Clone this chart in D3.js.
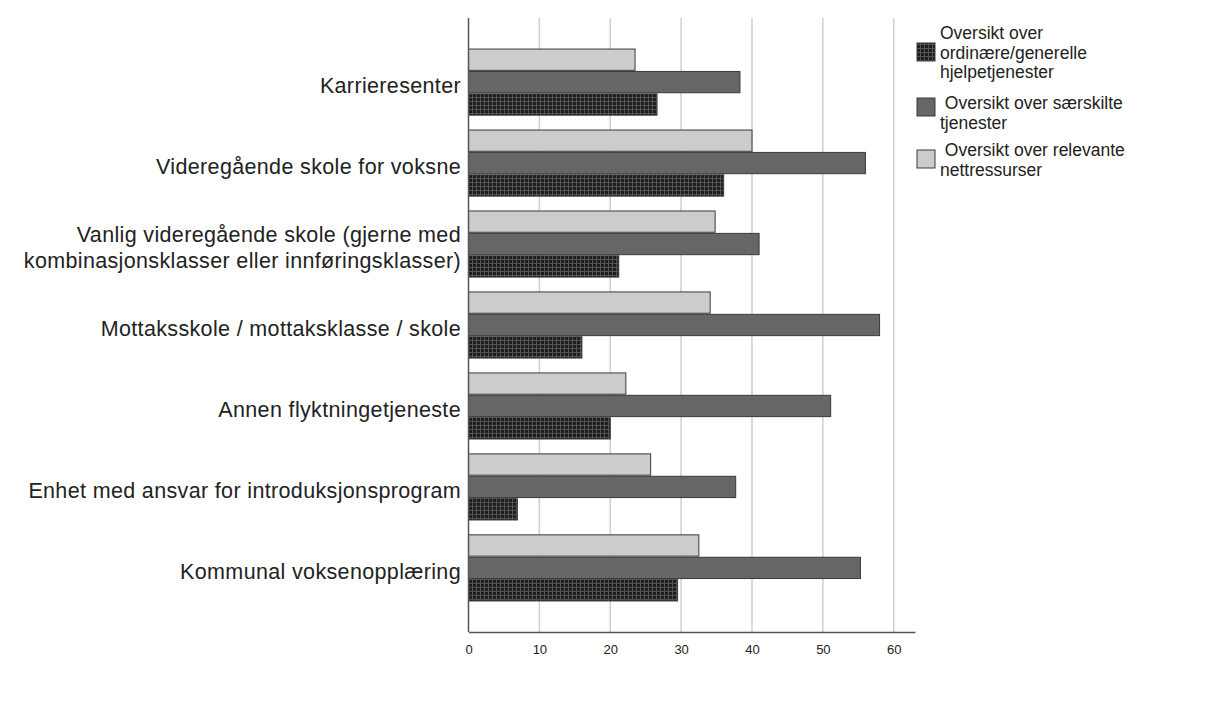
<!DOCTYPE html>
<html>
<head>
<meta charset="utf-8">
<script src="https://cdn.jsdelivr.net/npm/d3@7/dist/d3.min.js"></script>
<style>
  html, body { margin: 0; padding: 0; background: #fff; }
  svg { display: block; font-family: "Liberation Sans", Arial, sans-serif; }
</style>
</head>
<body>
<svg id="chart" width="1206" height="713"></svg>
<script>
const categories = [
  "Karrieresenter",
  "Videregående skole for voksne",
  "Vanlig videregående skole (gjerne med|kombinasjonsklasser eller innføringsklasser)",
  "Mottaksskole / mottaksklasse / skole",
  "Annen flyktningetjeneste",
  "Enhet med ansvar for introduksjonsprogram",
  "Kommunal voksenopplæring"
];
const seriesNames = [
  "Oversikt over|ordinære/generelle|hjelpetjenester",
  " Oversikt over særskilte|tjenester",
  " Oversikt over relevante|nettressurser"
];
const ordinaere = [26.6, 36.0, 21.2, 16.0, 20.0, 6.9, 29.5];
const saerskilte = [38.3, 56.0, 41.0, 58.0, 51.1, 37.7, 55.3];
const nettressurser = [23.5, 40.0, 34.8, 34.1, 22.2, 25.7, 32.5];
const xTicks = [0, 10, 20, 30, 40, 50, 60];

const svg = d3.select("#chart");
const defs = svg.append("defs");
const pat = defs.append("pattern").attr("id", "checker")
  .attr("patternUnits", "userSpaceOnUse").attr("width", 4).attr("height", 4);
pat.append("rect").attr("width", 4).attr("height", 4).attr("fill", "#555");
pat.append("rect").attr("x", 1).attr("y", 1).attr("width", 3).attr("height", 3).attr("fill", "#1c1c1c");

const x = d3.scaleLinear().domain([0, 63]).range([468.5, 915]);
const y = d3.scaleBand().domain(categories).range([18, 632])
  .paddingInner(0.1835).paddingOuter(0.3835);

const seriesKeys = ["nett", "saer", "ord"];
const seriesData = { nett: nettressurser, saer: saerskilte, ord: ordinaere };
const fills = { nett: "#cccccc", saer: "#666666", ord: "url(#checker)" };
const ySub = d3.scaleBand().domain(seriesKeys).range([0, y.bandwidth()]).paddingInner(0.05);

// gridlines
svg.append("g").selectAll("line").data(xTicks.slice(1)).join("line")
  .attr("x1", d => x(d)).attr("x2", d => x(d))
  .attr("y1", 18).attr("y2", 632)
  .attr("stroke", "#cfcfcf").attr("stroke-width", 1.5);

// bars
const groups = svg.append("g").selectAll("g").data(categories).join("g")
  .attr("transform", d => `translate(0,${y(d)})`);
groups.each(function(cat, i) {
  d3.select(this).selectAll("rect").data(seriesKeys).join("rect")
    .attr("x", x(0))
    .attr("y", k => ySub(k))
    .attr("width", k => x(seriesData[k][i]) - x(0))
    .attr("height", ySub.bandwidth())
    .attr("fill", k => fills[k])
    .attr("stroke", "#3a3a3a").attr("stroke-width", 1);
});

// axes
const xAxis = d3.axisBottom(x).tickValues(xTicks).tickSize(0).tickPadding(13);
const gx = svg.append("g").attr("transform", "translate(0,632)").call(xAxis);
gx.select(".domain").attr("stroke", "#555").attr("stroke-width", 1.5);
gx.selectAll("text").attr("font-size", 13).attr("fill", "#222")
  .attr("font-family", "'Liberation Sans', Arial, sans-serif");

svg.append("line").attr("x1", x(0)).attr("x2", x(0)).attr("y1", 18).attr("y2", 632)
  .attr("stroke", "#555").attr("stroke-width", 1.5);

// category labels
const lab = svg.append("g").selectAll("text").data(categories).join("text")
  .attr("x", 461)
  .attr("y", d => y(d) + y.bandwidth() / 2)
  .attr("text-anchor", "end")
  .attr("font-size", 21.5)
  .attr("letter-spacing", 0.35)
  .attr("fill", "#222");
lab.each(function(d) {
  const lines = d.split("|");
  const t = d3.select(this);
  const lh = 26;
  lines.forEach((ln, j) => {
    t.append("tspan").attr("x", 461)
      .attr("dy", j === 0 ? ((-(lines.length - 1) * lh / 2) + 11) : lh)
      .text(ln);
  });
});

// legend
const legKeys = ["ord", "saer", "nett"];
const legTops = [24, 94, 141];
const legSwatch = [43, 98, 150];
const leg = svg.append("g");
legKeys.forEach((k, i) => {
  leg.append("rect").attr("x", 917).attr("y", legSwatch[i]).attr("width", 18).attr("height", 18)
    .attr("fill", fills[k]).attr("stroke", "#3a3a3a").attr("stroke-width", 1);
  const t = leg.append("text").attr("x", 940).attr("y", legTops[i] + 15)
    .attr("font-size", 17.5).attr("fill", "#222").attr("xml:space", "preserve")
    .style("white-space", "pre");
  seriesNames[i].split("|").forEach((ln, j) => {
    t.append("tspan").attr("x", 940).attr("dy", j === 0 ? 0 : 19.5).text(ln);
  });
});
</script>
</body>
</html>
